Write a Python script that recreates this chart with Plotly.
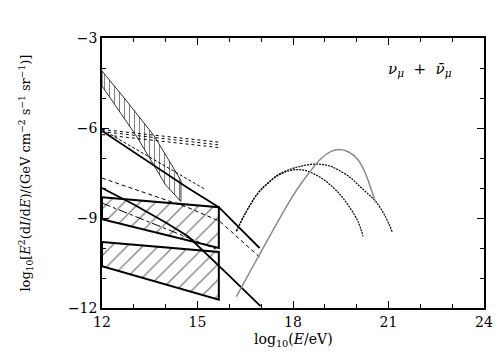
import plotly.graph_objects as go

# ---- data (log10 E/eV, log10 flux) ----
band_upper_x = [12.0, 12.7, 13.65, 14.48]
band_upper_y = [-4.1, -5.0, -6.28, -7.75]
band_lower_x = [12.0, 13.1, 14.0, 14.48]
band_lower_y = [-4.6, -6.3, -7.9, -8.45]

box1_x = [12.0, 15.67, 15.67, 12.0]
box1_y = [-8.31, -8.64, -10.0, -9.04]
box2_x = [12.0, 15.67, 15.67, 12.0]
box2_y = [-9.8, -10.13, -11.72, -10.61]

dot1_x = [12.0, 15.65]
dot1_y = [-6.05, -6.47]
dot2_x = [12.0, 15.65]
dot2_y = [-6.12, -6.56]
dot3_x = [12.0, 15.65]
dot3_y = [-6.22, -6.65]

solid_a_x = [12.0, 13.0, 14.0, 14.7, 15.67, 16.3, 16.95]
solid_a_y = [-6.1, -6.8, -7.5, -8.0, -8.64, -9.3, -10.0]
dash_a_x = [12.0, 15.25]
dash_a_y = [-6.05, -8.05]
dash_b_x = [12.0, 13.5, 14.7, 15.7, 16.95]
dash_b_y = [-7.67, -8.2, -8.65, -9.11, -10.3]
solid_b_x = [12.0, 13.0, 14.0, 14.7, 15.96, 16.98]
solid_b_y = [-8.0, -8.55, -9.15, -9.61, -10.89, -11.94]
dashdot_x = [12.0, 15.67]
dashdot_y = [-8.5, -10.07]

arc_outer_x = [16.22, 16.5, 16.9, 17.2, 17.53, 17.9, 18.3, 18.7, 19.1, 19.41, 19.8, 20.04, 20.36, 20.6, 20.9, 21.12]
arc_outer_y = [-9.44, -8.85, -8.17, -7.85, -7.56, -7.38, -7.26, -7.2, -7.25, -7.39, -7.65, -7.89, -8.2, -8.45, -8.95, -9.47]
arc_inner_x = [16.22, 16.5, 16.9, 17.2, 17.53, 17.9, 18.26, 18.6, 19.0, 19.41, 19.75, 20.04, 20.2]
arc_inner_y = [-9.44, -8.85, -8.17, -7.85, -7.58, -7.42, -7.39, -7.5, -7.75, -8.14, -8.6, -9.11, -9.61]
gray_x = [16.22, 16.8, 17.53, 18.05, 18.5, 18.9, 19.2, 19.45, 19.75, 20.04, 20.25, 20.46, 20.59]
gray_y = [-11.62, -10.5, -9.11, -8.17, -7.5, -7.0, -6.78, -6.72, -6.8, -7.06, -7.45, -8.06, -8.47]

x_ticks = [12, 15, 18, 21, 24]
y_ticks = [-3, -6, -9, -12]

FONT = "DejaVu Serif"

fig = go.Figure()

# hatched band (vertical hatching)
fig.add_trace(go.Scatter(
    x=band_upper_x + band_lower_x[::-1] + [band_upper_x[0]],
    y=band_upper_y + band_lower_y[::-1] + [band_upper_y[0]],
    mode="lines", line=dict(color="black", width=0.8),
    fill="toself", fillcolor="rgba(0,0,0,0)",
    fillpattern=dict(shape="|", fgcolor="black", bgcolor="rgba(0,0,0,0)", size=5, solidity=0.2),
    hoverinfo="skip"))

for bx, by in [(box1_x, box1_y), (box2_x, box2_y)]:
    fig.add_trace(go.Scatter(
        x=bx + [bx[0]], y=by + [by[0]],
        mode="lines", line=dict(color="black", width=2),
        fill="toself", fillcolor="rgba(0,0,0,0)",
        fillpattern=dict(shape="/", fgcolor="black", bgcolor="rgba(0,0,0,0)", size=11, solidity=0.12),
        hoverinfo="skip"))

for xs, ys in [(dot1_x, dot1_y), (dot2_x, dot2_y), (dot3_x, dot3_y)]:
    fig.add_trace(go.Scatter(x=xs, y=ys, mode="lines",
                             line=dict(color="black", width=1, dash="dot")))

fig.add_trace(go.Scatter(x=solid_a_x, y=solid_a_y, mode="lines",
                         line=dict(color="black", width=1.8)))
fig.add_trace(go.Scatter(x=dash_a_x, y=dash_a_y, mode="lines",
                         line=dict(color="black", width=1, dash="3px,2px")))
fig.add_trace(go.Scatter(x=dash_b_x, y=dash_b_y, mode="lines",
                         line=dict(color="black", width=1, dash="4px,3px")))
fig.add_trace(go.Scatter(x=solid_b_x, y=solid_b_y, mode="lines",
                         line=dict(color="black", width=1.8)))
fig.add_trace(go.Scatter(x=dashdot_x, y=dashdot_y, mode="lines",
                         line=dict(color="black", width=1, dash="dashdot")))

fig.add_trace(go.Scatter(x=arc_outer_x, y=arc_outer_y, mode="lines",
                         line=dict(color="black", width=1.2, dash="2px,1px", shape="spline")))
fig.add_trace(go.Scatter(x=arc_inner_x, y=arc_inner_y, mode="lines",
                         line=dict(color="black", width=1.2, dash="2px,1px", shape="spline")))
fig.add_trace(go.Scatter(x=gray_x, y=gray_y, mode="lines",
                         line=dict(color="#8a8a8a", width=1.5, shape="spline")))

axis_common = dict(
    showline=True, linecolor="black", linewidth=1.5, mirror="ticks",
    ticks="inside", ticklen=7, tickwidth=1.2, tickcolor="black",
    showgrid=False, zeroline=False,
    tickfont=dict(family=FONT, size=14, color="black"),
)
fig.update_xaxes(range=[12, 24], tickvals=x_ticks, ticktext=[str(v) for v in x_ticks],
                 minor=dict(ticks="inside", ticklen=4, dtick=1, tickcolor="black", tickwidth=1.2),
                 **axis_common)
fig.update_yaxes(range=[-12, -3], tickvals=y_ticks, ticktext=["\u2212" + str(-v) for v in y_ticks],
                 minor=dict(ticks="inside", ticklen=4, dtick=1, tickcolor="black", tickwidth=1.2),
                 **axis_common)

fig.add_annotation(x=0.5, y=-0.12, xref="paper", yref="paper", showarrow=False,
                   xanchor="center", yanchor="middle",
                   text="log<sub>10</sub>(<i>E</i>/eV)",
                   font=dict(family=FONT, size=14, color="black"))
fig.add_annotation(x=-0.2, y=0.5, xref="paper", yref="paper", showarrow=False,
                   xanchor="center", yanchor="middle", textangle=-90,
                   text="log<sub>10</sub>[<i>E</i><sup>2</sup>(d<i>I</i>/d<i>E</i>)/(GeV cm<sup>\u22122</sup> s<sup>\u22121</sup> sr<sup>\u22121</sup>)]",
                   font=dict(family=FONT, size=13, color="black"))
fig.add_annotation(x=22.0, y=-4.05, xref="x", yref="y", showarrow=False,
                   xanchor="center", yanchor="middle",
                   text="<i>\u03bd<sub>\u03bc</sub></i>  +  <i>\u03bd\u0304<sub>\u03bc</sub></i>",
                   font=dict(family=FONT, size=15, color="black"))

fig.update_layout(
    width=504, height=360,
    margin=dict(l=94, r=28, t=30, b=60),
    paper_bgcolor="white", plot_bgcolor="white",
    showlegend=False,
)

fig.write_html("out.html")
